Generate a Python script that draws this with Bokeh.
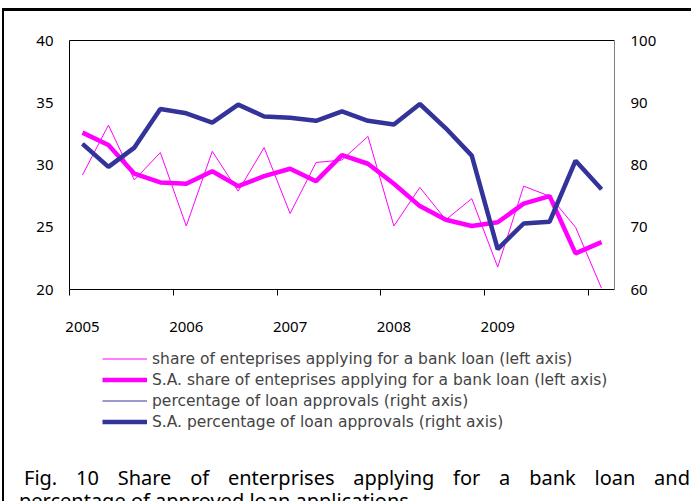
from bokeh.plotting import figure
from bokeh.models import Range1d, LinearAxis, FixedTicker, Legend, LegendItem, Div
from bokeh.layouts import column
from bokeh.embed import file_html
from bokeh.resources import INLINE

# ---- data (quarterly, 2005Q1 .. 2010Q1) ----
quarters = list(range(21))
year_ticks = [0, 4, 8, 12, 16]
year_labels = ["2005", "2006", "2007", "2008", "2009"]
share_raw = [29.2, 33.2, 28.8, 31.0, 25.1, 31.1, 27.9, 31.4, 26.1, 30.2, 30.4,
             32.3, 25.1, 28.2, 25.6, 27.3, 21.8, 28.3, 27.5, 25.0, 20.1]
share_sa = [32.6, 31.6, 29.3, 28.6, 28.5, 29.5, 28.3, 29.1, 29.7, 28.7, 30.8,
            30.1, 28.5, 26.7, 25.6, 25.1, 25.4, 26.9, 27.5, 22.9, 23.8]
approvals_raw = [83.4, 79.7, 82.8, 89.0, 88.3, 86.8, 89.7, 87.8, 87.6, 87.1, 88.6,
                 87.1, 86.5, 89.8, 85.9, 81.5, 66.5, 70.6, 70.9, 80.7, 76.1]
approvals_sa = [83.4, 79.7, 82.8, 89.0, 88.3, 86.8, 89.7, 87.8, 87.6, 87.1, 88.6,
                87.1, 86.5, 89.8, 85.9, 81.5, 66.5, 70.6, 70.9, 80.7, 76.1]
left_ticks = [20, 25, 30, 35, 40]
right_ticks = [60, 70, 80, 90, 100]
labels = ["share of enteprises applying for a bank loan (left axis)",
          "S.A. share of enteprises applying for a bank loan (left axis)",
          "percentage of loan approvals (right axis)",
          "S.A. percentage of loan approvals (right axis)"]
caption1 = "Fig. 10 Share of enterprises applying for a bank loan and"
caption2 = "percentage of approved loan applications"

MAGENTA = "#FF00FF"
NAVY = "#333399"
FONT = "Noto Sans"
styles_list = [(MAGENTA, 1), (MAGENTA, 4.5), (NAVY, 1), (NAVY, 4.5)]

# ---------------- main chart ----------------
p = figure(width=687, height=334, x_range=Range1d(-0.5, 20.5), y_range=Range1d(20, 40),
           output_backend="svg", toolbar_location=None,
           x_axis_location=None, y_axis_location=None,
           min_border_left=65, min_border_right=77, min_border_top=29, min_border_bottom=56)
p.extra_y_ranges = {"right": Range1d(60, 100)}
p.outline_line_color = None
p.grid.grid_line_color = None
p.background_fill_color = "white"
p.border_fill_color = "white"

def style_axis(ax):
    ax.major_label_text_font = FONT
    ax.major_label_text_font_size = "15px"
    ax.major_label_text_color = "black"
    ax.major_tick_line_color = None
    ax.minor_tick_line_color = None
    ax.major_tick_out = 0
    ax.major_tick_in = 0

ly = LinearAxis(ticker=FixedTicker(ticks=left_ticks), axis_line_color="black")
style_axis(ly)
ly.major_label_standoff = 16
p.add_layout(ly, "left")

ry = LinearAxis(y_range_name="right", ticker=FixedTicker(ticks=right_ticks), axis_line_color="#808080")
style_axis(ry)
ry.major_label_standoff = 16
p.add_layout(ry, "right")

bx = LinearAxis(ticker=FixedTicker(ticks=year_ticks,
                                   minor_ticks=[t - 0.5 for t in year_ticks] + [19.5]),
                major_label_overrides={t: l for t, l in zip(year_ticks, year_labels)},
                axis_line_color="black")
style_axis(bx)
bx.minor_tick_line_color = "black"
bx.minor_tick_out = 6
bx.minor_tick_in = 0
bx.major_label_standoff = 26
p.add_layout(bx, "below")

tx = LinearAxis(ticker=FixedTicker(ticks=[]), axis_line_color="black")
style_axis(tx)
tx.major_label_text_font_size = "0px"
p.add_layout(tx, "above")

series = [(quarters, share_raw, "default"), (quarters, share_sa, "default"),
          (quarters, approvals_raw, "right"), (quarters, approvals_sa, "right")]
for (xs, ys, rng), (c, w) in zip(series, styles_list):
    p.line(xs, ys, line_color=c, line_width=w, y_range_name=rng)

# ---------------- legend strip (its lines lie outside its own visible range) ----------------
lg = figure(width=687, height=116, x_range=Range1d(0, 1), y_range=Range1d(-2, -1),
            output_backend="svg", toolbar_location=None,
            x_axis_location=None, y_axis_location=None, min_border=0)
lg.outline_line_color = None
lg.grid.grid_line_color = None
lrs = [lg.line(xs, ys, line_color=c, line_width=w) for (xs, ys, _), (c, w) in zip(series, styles_list)]
legend = Legend(items=[LegendItem(label=l, renderers=[r]) for l, r in zip(labels, lrs)],
                location=(33, 29), orientation="vertical",
                glyph_width=45, glyph_height=21, label_height=21, spacing=0,
                padding=0, margin=0, border_line_color=None, background_fill_alpha=0,
                label_text_font="DejaVu Sans", label_text_font_size="15.5px", label_standoff=5)
lg.add_layout(legend)

# ---------------- caption ----------------
cap_style = "font-family:'Noto Sans';font-size:20px;line-height:23px;color:black;"
cap = Div(width=687, height=40,
          text=(f'<div style="{cap_style}margin-left:10px;width:671px;">'
                f'<div style="text-align:justify;text-align-last:justify;padding-left:5px;">{caption1}</div>'
                f'<div>{caption2}</div></div>'))

layout = column(p, lg, cap, spacing=0,
                styles={"margin-left": "2px", "margin-top": "8px",
                        "border-left": "2px solid black", "border-top": "3px solid black"})

open("out.html", "w").write(file_html(layout, INLINE))
